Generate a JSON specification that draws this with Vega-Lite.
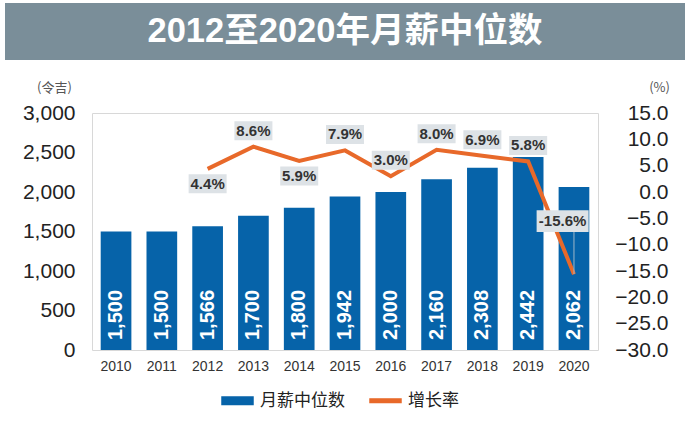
{
  "$schema": "https://vega.github.io/schema/vega-lite/v6.json",
  "background": "white",
  "padding": {"left": 5, "top": 3, "right": 5, "bottom": 5},
  "bounds": "flush",
  "center": true,
  "spacing": 53,
  "datasets": {
    "salary": [
      {"year": "2010", "median": 1500, "pct": null, "label": null},
      {"year": "2011", "median": 1500, "pct": null, "label": null},
      {"year": "2012", "median": 1566, "pct": 4.4, "label": "4.4%"},
      {"year": "2013", "median": 1700, "pct": 8.6, "label": "8.6%"},
      {"year": "2014", "median": 1800, "pct": 5.9, "label": "5.9%"},
      {"year": "2015", "median": 1942, "pct": 7.9, "label": "7.9%"},
      {"year": "2016", "median": 2000, "pct": 3.0, "label": "3.0%"},
      {"year": "2017", "median": 2160, "pct": 8.0, "label": "8.0%"},
      {"year": "2018", "median": 2308, "pct": 6.9, "label": "6.9%"},
      {"year": "2019", "median": 2442, "pct": 5.8, "label": "5.8%"},
      {"year": "2020", "median": 2062, "pct": -15.6, "label": "-15.6%"}
    ],
    "heading": [{"text": "2012至2020年月薪中位数"}]
  },
  "vconcat": [
    {
      "width": 680,
      "height": 57,
      "view": {"fill": "#7a8e99", "stroke": null},
      "data": {"name": "heading"},
      "mark": {"type": "text", "font": "Liberation Sans, Noto Sans CJK SC", "fontWeight": "bold", "fontSize": 34.5, "color": "white", "align": "center", "baseline": "middle"},
      "encoding": {"text": {"field": "text", "type": "nominal"}}
    },
    {
      "width": 506,
      "height": 237,
      "view": {"stroke": "#d8d8d8", "strokeWidth": 1},
      "data": {"name": "salary"},
      "encoding": {
        "x": {
          "field": "year", "type": "ordinal",
          "scale": {"paddingInner": 0.33, "paddingOuter": 0.19},
          "axis": {"title": null, "ticks": false, "domain": false, "grid": false, "labelAngle": 0, "labelFont": "Liberation Sans", "labelFontSize": 14, "labelColor": "#333", "labelPadding": 9}
        }
      },
      "layer": [
        {
          "encoding": {
            "y": {
              "field": "median", "type": "quantitative",
              "scale": {"domain": [0, 3000], "nice": false},
              "axis": {"values": [0, 500, 1000, 1500, 2000, 2500, 3000], "format": ",.0f", "ticks": false, "domain": false, "grid": false, "labelFont": "Liberation Sans", "labelFontSize": 21, "labelColor": "#222", "labelPadding": 17, "labelOverlap": false,
                "title": "(令吉)", "titleFont": "Noto Sans CJK SC", "titleFontSize": 13, "titleFontWeight": "normal", "titleColor": "#555", "titleAngle": 0, "titleX": -38, "titleY": -26, "titleAlign": "center", "titleBaseline": "middle"}
            }
          },
          "layer": [
            {
              "mark": {"type": "bar"},
              "encoding": {
                "color": {
                  "datum": "月薪中位数", "type": "nominal",
                  "scale": {"domain": ["月薪中位数", "增长率"], "range": ["#0663a9", "#e8692a"]},
                  "legend": {
                    "orient": "none", "legendX": 216, "legendY": 381, "direction": "horizontal", "title": null,
                    "labelFont": "Noto Sans CJK SC", "labelFontSize": 17, "labelColor": "#222", "symbolSize": 961, "labelOffset": 6, "columnPadding": 22,
                    "encode": {"symbols": {"update": {
                      "shape": {"signal": "datum.value === '增长率' ? 'M-1,-0.12H1V0.12H-1Z' : 'M-1,-0.24H1V0.24H-1Z'"},
                      "fill": {"scale": "color", "field": "value"},
                      "stroke": {"value": "transparent"},
                      "opacity": {"value": 1}
                    }}}
                  }
                }
              }
            },
            {
              "mark": {"type": "text", "angle": 270, "align": "left", "baseline": "middle", "dx": 10, "font": "Liberation Sans", "fontWeight": "bold", "fontSize": 20, "color": "white"},
              "encoding": {
                "y": {"datum": 0, "type": "quantitative"},
                "text": {"field": "median", "type": "quantitative", "format": ","}
              }
            }
          ]
        },
        {
          "transform": [{"filter": "datum.pct != null"}],
          "encoding": {
            "y": {
              "field": "pct", "type": "quantitative",
              "scale": {"domain": [-30, 15], "nice": false},
              "axis": {"orient": "right", "values": [-30, -25, -20, -15, -10, -5, 0, 5, 10, 15], "format": ".1f", "ticks": false, "domain": false, "grid": false, "labelFont": "Liberation Sans", "labelFontSize": 21, "labelColor": "#222", "labelAlign": "right", "labelPadding": 70, "labelOverlap": false,
                "title": "(%)", "titleFont": "Noto Sans CJK SC", "titleFontSize": 13, "titleFontWeight": "normal", "titleColor": "#555", "titleAngle": 0, "titleX": 61, "titleY": -26, "titleAlign": "center", "titleBaseline": "middle"}
            }
          },
          "layer": [
            {
              "mark": {"type": "line", "strokeWidth": 4},
              "encoding": {"color": {"datum": "增长率", "type": "nominal"}}
            },
            {
              "transform": [{"filter": {"field": "year", "equal": "2020"}}],
              "mark": {"type": "rule", "color": "#9fb6c8", "strokeWidth": 1},
              "encoding": {"y2": {"datum": -7.6}}
            },
            {
              "transform": [{"filter": {"field": "year", "oneOf": ["2012", "2014"]}}],
              "layer": [
                {
                  "mark": {"type": "point", "shape": "M-1,-0.5H1V0.5H-1Z", "filled": true, "fill": "#dde2e6", "size": 1444, "opacity": 1, "strokeWidth": 0},
                  "encoding": {"yOffset": {"value": 15}}
                },
                {
                  "mark": {"type": "text", "font": "Liberation Sans", "fontWeight": "bold", "fontSize": 15, "color": "#333", "align": "center", "baseline": "middle"},
                  "encoding": {"yOffset": {"value": 15}, "text": {"field": "label", "type": "nominal"}}
                }
              ]
            },
            {
              "transform": [{"filter": {"field": "year", "oneOf": ["2013", "2015", "2016", "2017", "2018", "2019"]}}],
              "layer": [
                {
                  "mark": {"type": "point", "shape": "M-1,-0.5H1V0.5H-1Z", "filled": true, "fill": "#dde2e6", "size": 1444, "opacity": 1, "strokeWidth": 0},
                  "encoding": {"yOffset": {"value": -16}}
                },
                {
                  "mark": {"type": "text", "font": "Liberation Sans", "fontWeight": "bold", "fontSize": 15, "color": "#333", "align": "center", "baseline": "middle"},
                  "encoding": {"yOffset": {"value": -16}, "text": {"field": "label", "type": "nominal"}}
                }
              ]
            },
            {
              "transform": [{"filter": {"field": "year", "equal": "2020"}}],
              "layer": [
                {
                  "mark": {"type": "point", "shape": "M-1,-0.42H1V0.42H-1Z", "filled": true, "fill": "#dde2e6", "size": 2704, "opacity": 1, "strokeWidth": 0},
                  "encoding": {"yOffset": {"value": -53}, "xOffset": {"value": 4}}
                },
                {
                  "mark": {"type": "text", "font": "Liberation Sans", "fontWeight": "bold", "fontSize": 15, "color": "#333", "align": "center", "baseline": "middle"},
                  "encoding": {"yOffset": {"value": -53}, "xOffset": {"value": 4}, "text": {"field": "label", "type": "nominal"}}
                }
              ]
            }
          ]
        }
      ],
      "resolve": {"scale": {"y": "independent"}}
    }
  ]
}
